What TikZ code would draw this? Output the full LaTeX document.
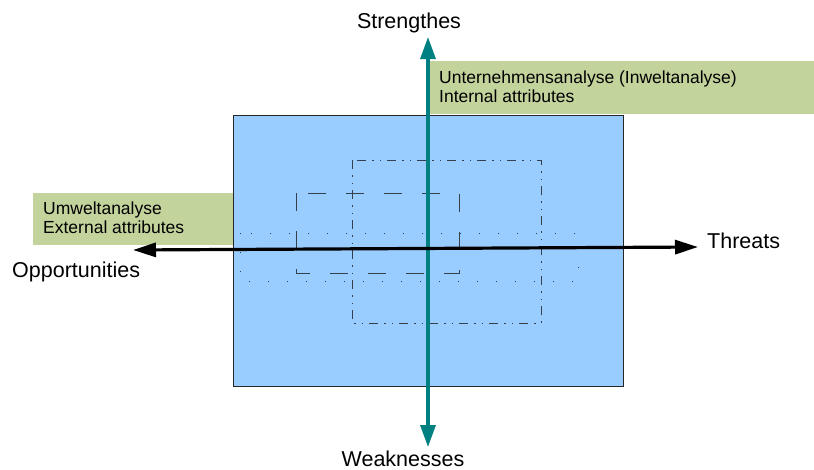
\documentclass[tikz,border=0pt]{standalone}
\usepackage{fontspec}
\setmainfont{Liberation Sans}
\usetikzlibrary{arrows.meta}
\definecolor{panelblue}{HTML}{99CCFF}
\definecolor{notegreen}{HTML}{C3D39C}
\definecolor{axisteal}{HTML}{008080}
\definecolor{frameline}{HTML}{34404E}
\begin{document}
\begin{tikzpicture}[x=1pt,y=-1pt,
  biglabel/.style={inner sep=0pt,font=\fontsize{21.5}{26}\selectfont},
  notetext/.style={inner sep=0pt,anchor=base west,font=\fontsize{17.5}{20}\selectfont},
  notebox/.style={fill=notegreen,draw=none},
  areabox/.style={fill=panelblue,draw=black!85,line width=0.9pt},
  longdash/.style={draw=frameline,line width=1pt,dash pattern=on 18pt off 20pt},
  dashdots/.style={draw=frameline,line width=1pt,dash pattern=on 9pt off 6pt on 1.5pt off 6pt on 1.5pt off 6pt},
  sparsedots/.style={draw=frameline,line width=0.9pt,dash pattern=on 1.1pt off 17.9pt},
  vaxis/.style={draw=axisteal,line width=3.2pt,{Triangle[length=22pt,width=15pt]}-{Triangle[length=22pt,width=15pt]}},
  haxis/.style={draw=black,line width=3.2pt,{Triangle[length=23pt,width=14pt]}-{Triangle[length=23pt,width=14pt]}}
]
\useasboundingbox (0,0) rectangle (814,469);

% analysis area
\path[areabox] (233,115) rectangle (623,386);

% overlapping frames inside the area
\path[dashdots] (352,160) rectangle (541,323);
\path[longdash] (296,193) rectangle (459,273);
\path[sparsedots] (240,233) rectangle (578,281);

% note boxes
\path[notebox] (428,61) rectangle (814,114);
\path[notebox] (33,193) rectangle (233,245);
\node[notetext] (int1) at (439,83) {Unternehmensanalyse (Inweltanalyse)};
\node[notetext] (int2) at (439,102) {Internal attributes};
\node[notetext] (ext1) at (43,214) {Umweltanalyse};
\node[notetext] (ext2) at (43,233) {External attributes};

% axis end points
\coordinate (stip) at (428,37);
\coordinate (wtip) at (428,447);
\coordinate (otip) at (133,250);
\coordinate (ttip) at (698,247);

\draw[vaxis] (wtip) -- (stip);
\draw[haxis] (otip) -- (ttip);

% axis labels
\node[biglabel,anchor=base] (str) at (409,28) {Strengthes};
\node[biglabel,anchor=base] (weak) at (403,466) {Weaknesses};
\node[biglabel,anchor=base west] (thr) at (707,248) {Threats};
\node[biglabel,anchor=base west] (opp) at (12,277) {Opportunities};
\end{tikzpicture}
\end{document}
